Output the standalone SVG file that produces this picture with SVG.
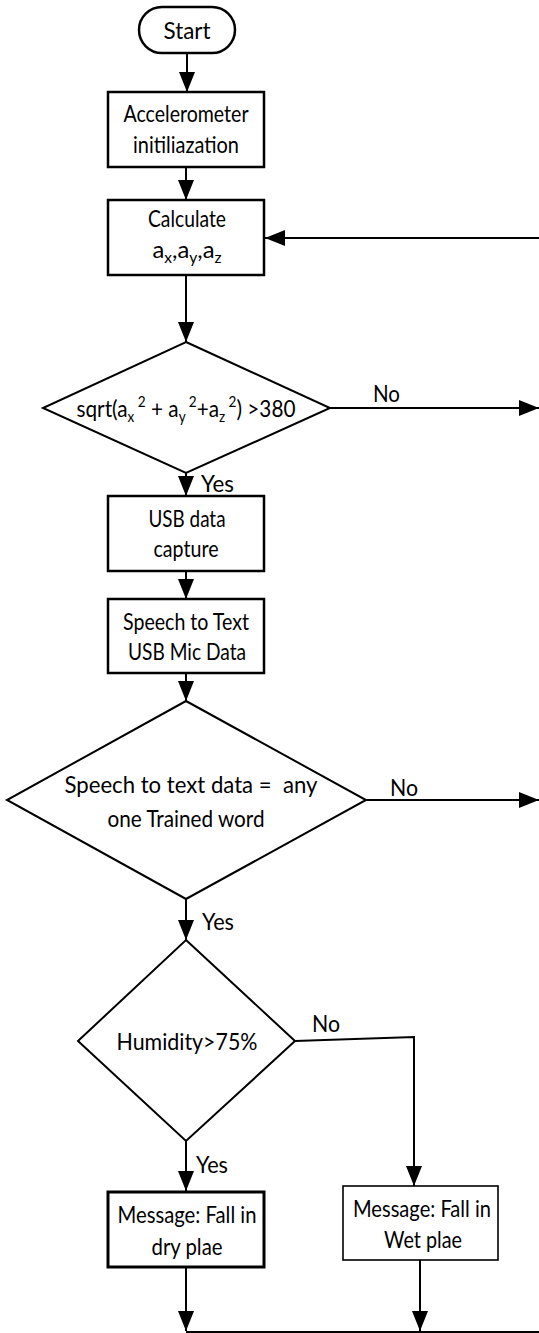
<svg xmlns="http://www.w3.org/2000/svg" width="539" height="1333" viewBox="0 0 539 1333">
<style>
text{font-family:Lato,"Liberation Sans",sans-serif;font-size:23px;fill:#000}
.c{text-anchor:middle}
.box{fill:#fff;stroke:#000;stroke-width:2.5}
.thin{fill:#fff;stroke:#000;stroke-width:1.6}
.thick{fill:#fff;stroke:#000;stroke-width:3}
.dia{fill:#fff;stroke:#000;stroke-width:2}
.ln{fill:none;stroke:#000;stroke-width:2}
.sub{font-size:15px}
</style>
<defs>
<marker id="ah" markerUnits="userSpaceOnUse" markerWidth="20" markerHeight="16" refX="20" refY="8" orient="auto">
<path d="M0,0 L20,8 L0,16 z" fill="#000"/>
</marker>
</defs>
<g id="connectors">
<line class="ln" x1="187" y1="53" x2="187" y2="92" marker-end="url(#ah)"/>
<line class="ln" x1="186" y1="167" x2="186" y2="200" marker-end="url(#ah)"/>
<line class="ln" x1="539" y1="238" x2="265" y2="238" marker-end="url(#ah)"/>
<line class="ln" x1="186" y1="275" x2="186" y2="342" marker-end="url(#ah)"/>
<line class="ln" x1="330" y1="408" x2="539" y2="408" marker-end="url(#ah)"/>
<line class="ln" x1="186" y1="473" x2="186" y2="496" marker-end="url(#ah)"/>
<line class="ln" x1="186" y1="571" x2="186" y2="599" marker-end="url(#ah)"/>
<line class="ln" x1="186" y1="673" x2="186" y2="701" marker-end="url(#ah)"/>
<line class="ln" x1="366" y1="800" x2="539" y2="800" marker-end="url(#ah)"/>
<line class="ln" x1="186" y1="899" x2="186" y2="940" marker-end="url(#ah)"/>
<polyline class="ln" points="295,1041 414,1037 414,1186" marker-end="url(#ah)"/>
<line class="ln" x1="186" y1="1141" x2="186" y2="1191" marker-end="url(#ah)"/>
<line class="ln" x1="186" y1="1267" x2="186" y2="1331" marker-end="url(#ah)"/>
<line class="ln" x1="420" y1="1260" x2="420" y2="1331" marker-end="url(#ah)"/>
<line class="ln" x1="186" y1="1332" x2="539" y2="1332"/>
<text x="373" y="402" textLength="27" lengthAdjust="spacingAndGlyphs">No</text>
<text x="201" y="492" textLength="33" lengthAdjust="spacingAndGlyphs">Yes</text>
<text x="390" y="796" textLength="28" lengthAdjust="spacingAndGlyphs">No</text>
<text x="202" y="930" textLength="32" lengthAdjust="spacingAndGlyphs">Yes</text>
<text x="312" y="1032" textLength="28" lengthAdjust="spacingAndGlyphs">No</text>
<text x="196" y="1173" textLength="32" lengthAdjust="spacingAndGlyphs">Yes</text>
</g>
<g id="start">
<rect x="139" y="7" width="96" height="46" rx="23" class="box"/>
<text class="c" x="187" y="39" textLength="47" lengthAdjust="spacingAndGlyphs">Start</text>
</g>
<g id="init">
<rect x="108" y="92" width="156" height="75" class="box"/>
<text class="c" x="186" y="122" textLength="125" lengthAdjust="spacingAndGlyphs">Accelerometer</text>
<text class="c" x="186" y="153" textLength="106" lengthAdjust="spacingAndGlyphs">initiliazation</text>
</g>
<g id="calc">
<rect x="108" y="200" width="156" height="75" class="box"/>
<text class="c" x="187" y="227" textLength="78" lengthAdjust="spacingAndGlyphs">Calculate</text>
<text class="c" x="187" y="258" textLength="69" lengthAdjust="spacingAndGlyphs">a<tspan class="sub" dy="5">x</tspan><tspan dy="-5">,a</tspan><tspan class="sub" dy="5">y</tspan><tspan dy="-5">,a</tspan><tspan class="sub" dy="5">z</tspan></text>
</g>
<g id="threshold">
<polygon points="186,342 330,408 186,473 43,408" class="dia"/>
<text class="c" x="186" y="417" textLength="219" lengthAdjust="spacingAndGlyphs">sqrt(a<tspan class="sub" dy="5">x</tspan><tspan class="sub" dy="-15"> 2</tspan><tspan dy="10"> + a</tspan><tspan class="sub" dy="5">y</tspan><tspan class="sub" dy="-15"> 2</tspan><tspan dy="10">+a</tspan><tspan class="sub" dy="5">z</tspan><tspan class="sub" dy="-15"> 2</tspan><tspan dy="10">) &gt;380</tspan></text>
</g>
<g id="usb">
<rect x="108" y="496" width="156" height="75" class="box"/>
<text class="c" x="187" y="527" textLength="77" lengthAdjust="spacingAndGlyphs">USB data</text>
<text class="c" x="186" y="557" textLength="65" lengthAdjust="spacingAndGlyphs">capture</text>
</g>
<g id="speech">
<rect x="108" y="599" width="156" height="74" class="box"/>
<text class="c" x="186" y="630" textLength="126" lengthAdjust="spacingAndGlyphs">Speech to Text</text>
<text class="c" x="187" y="660" textLength="118" lengthAdjust="spacingAndGlyphs">USB Mic Data</text>
</g>
<g id="match">
<polygon points="186,701 366,800 186,899 7,800" class="dia"/>
<text class="c" x="191" y="793" xml:space="preserve" textLength="253" lengthAdjust="spacingAndGlyphs">Speech to text data =  any</text>
<text class="c" x="186" y="827" textLength="157" lengthAdjust="spacingAndGlyphs">one Trained word</text>
</g>
<g id="humidity">
<polygon points="186,940 295,1041 186,1141 78,1041" class="dia"/>
<text class="c" x="187" y="1050" textLength="141" lengthAdjust="spacingAndGlyphs">Humidity&gt;75%</text>
</g>
<g id="dry">
<rect x="108" y="1192" width="156" height="75" class="thick"/>
<text class="c" x="187" y="1223" textLength="139" lengthAdjust="spacingAndGlyphs">Message: Fall in</text>
<text class="c" x="187" y="1255" textLength="71" lengthAdjust="spacingAndGlyphs">dry plae</text>
</g>
<g id="wet">
<rect x="343" y="1186" width="155" height="74" class="thin"/>
<text class="c" x="422" y="1217" textLength="138" lengthAdjust="spacingAndGlyphs">Message: Fall in</text>
<text class="c" x="423" y="1248" textLength="78" lengthAdjust="spacingAndGlyphs">Wet plae</text>
</g>
</svg>
